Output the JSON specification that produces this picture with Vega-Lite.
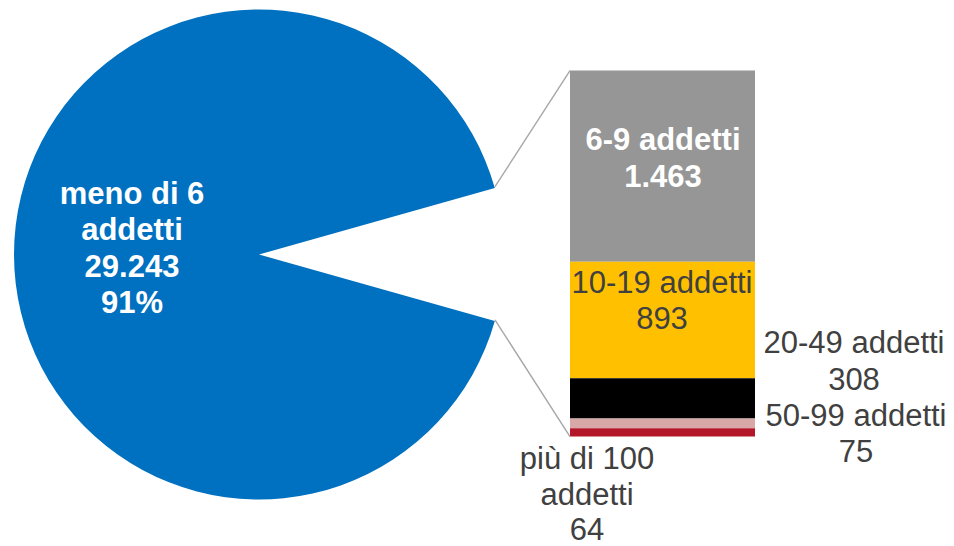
{
  "$schema": "https://vega.github.io/schema/vega-lite/v6.json",
  "width": 954,
  "height": 546,
  "padding": 0,
  "autosize": {"type": "fit", "contains": "padding"},
  "background": "white",
  "config": {"view": {"stroke": null}},
  "data": {
    "values": [
      {"cat": "meno di 6 addetti", "name": "meno di 6\naddetti", "value": 29243, "rank": 0},
      {"cat": "6-9 addetti", "name": "6-9 addetti", "value": 1463, "rank": 1},
      {"cat": "10-19 addetti", "name": "10-19 addetti", "value": 893, "rank": 2},
      {"cat": "20-49 addetti", "name": "20-49 addetti", "value": 308, "rank": 3},
      {"cat": "50-99 addetti", "name": "50-99 addetti", "value": 75, "rank": 4},
      {"cat": "più di 100 addetti", "name": "più di 100\naddetti", "value": 64, "rank": 5}
    ]
  },
  "transform": [
    {"joinaggregate": [{"op": "sum", "field": "value", "as": "total"}]},
    {"window": [{"op": "sum", "field": "value", "as": "v1"}], "sort": [{"field": "rank", "order": "descending"}], "frame": [null, 0]},
    {"calculate": "datum.v1 - datum.value", "as": "v0"},
    {"calculate": "datum.name + '\\n' + replace(format(datum.value, ','), ',', '.') + (datum.rank === 0 ? '\\n' + format(datum.value / datum.total, '.0%') : '')", "as": "lbl"}
  ],
  "layer": [
    {
      "transform": [{"filter": "datum.rank > 0"}],
      "mark": {"type": "bar"},
      "encoding": {
        "x": {"datum": 570, "type": "quantitative", "scale": {"domain": [0, 954], "nice": false, "zero": false}, "axis": null},
        "x2": {"datum": 755},
        "y": {"field": "v0", "type": "quantitative", "scale": {"domain": [-815, 3343.8], "nice": false, "zero": false}, "axis": null},
        "y2": {"field": "v1"},
        "color": {"field": "cat", "type": "nominal", "legend": null,
          "scale": {"domain": ["meno di 6 addetti", "6-9 addetti", "10-19 addetti", "20-49 addetti", "50-99 addetti", "più di 100 addetti"],
                    "range": ["#0070C0", "#969696", "#FFC000", "#000000", "#D8A7A7", "#B5172A"]}}
      }
    },
    {
      "mark": {"type": "arc", "outerRadius": 245, "x": 259, "y": 254.5},
      "encoding": {
        "theta": {"field": "v1", "type": "quantitative", "scale": {"range": [1.296011, 7.579196]}},
        "theta2": {"field": "v0"},
        "color": {"field": "cat", "type": "nominal", "legend": null},
        "opacity": {"condition": {"test": "datum.rank === 0", "value": 1}, "value": 0}
      }
    },
    {
      "transform": [{"filter": "datum.rank === 1"}],
      "mark": {"type": "rule", "color": "#A6A6A6", "strokeWidth": 1.4},
      "encoding": {
        "x": {"datum": 570, "type": "quantitative"},
        "x2": {"datum": 495},
        "y": {"field": "v1", "type": "quantitative", "axis": null},
        "y2": {"datum": 1914.1}
      }
    },
    {
      "transform": [{"filter": "datum.rank === 5"}],
      "mark": {"type": "rule", "color": "#A6A6A6", "strokeWidth": 1.4},
      "encoding": {
        "x": {"datum": 570, "type": "quantitative"},
        "x2": {"datum": 495},
        "y": {"field": "v0", "type": "quantitative", "axis": null},
        "y2": {"datum": 893.5}
      }
    },
    {
      "transform": [{"filter": "datum.rank === 0"}],
      "mark": {"type": "text", "align": "center", "baseline": "alphabetic", "font": "Liberation Sans", "fontSize": 31, "fontWeight": "bold", "fill": "#FFFFFF", "lineHeight": 36.5, "lineBreak": "\n"},
      "encoding": {
        "x": {"datum": 132, "type": "quantitative"},
        "y": {"datum": 1782.3, "type": "quantitative"},
        "text": {"field": "lbl", "type": "nominal"}
      }
    },
    {
      "transform": [{"filter": "datum.rank === 1"}],
      "mark": {"type": "text", "align": "center", "baseline": "alphabetic", "font": "Liberation Sans", "fontSize": 31, "fontWeight": "bold", "fill": "#FFFFFF", "lineHeight": 37.5, "lineBreak": "\n", "dy": 79},
      "encoding": {
        "x": {"datum": 663, "type": "quantitative"},
        "y": {"field": "v1", "type": "quantitative"},
        "text": {"field": "lbl", "type": "nominal"}
      }
    },
    {
      "transform": [{"filter": "datum.rank === 2"}],
      "mark": {"type": "text", "align": "center", "baseline": "alphabetic", "font": "Liberation Sans", "fontSize": 31, "fill": "#404040", "lineHeight": 36.5, "lineBreak": "\n", "dy": 31.3},
      "encoding": {
        "x": {"datum": 662, "type": "quantitative"},
        "y": {"field": "v1", "type": "quantitative"},
        "text": {"field": "lbl", "type": "nominal"}
      }
    },
    {
      "transform": [{"filter": "datum.rank === 3"}],
      "mark": {"type": "text", "align": "center", "baseline": "alphabetic", "font": "Liberation Sans", "fontSize": 31, "fill": "#404040", "lineHeight": 36.5, "lineBreak": "\n", "dy": -25},
      "encoding": {
        "x": {"datum": 854, "type": "quantitative"},
        "y": {"field": "v1", "type": "quantitative"},
        "text": {"field": "lbl", "type": "nominal"}
      }
    },
    {
      "transform": [{"filter": "datum.rank === 4"}],
      "mark": {"type": "text", "align": "center", "baseline": "alphabetic", "font": "Liberation Sans", "fontSize": 31, "fill": "#404040", "lineHeight": 36.5, "lineBreak": "\n", "dy": 7.3},
      "encoding": {
        "x": {"datum": 856, "type": "quantitative"},
        "y": {"field": "v1", "type": "quantitative"},
        "text": {"field": "lbl", "type": "nominal"}
      }
    },
    {
      "transform": [{"filter": "datum.rank === 5"}],
      "mark": {"type": "text", "align": "center", "baseline": "alphabetic", "font": "Liberation Sans", "fontSize": 31, "fill": "#404040", "lineHeight": 35.5, "lineBreak": "\n", "dy": 32.7},
      "encoding": {
        "x": {"datum": 587, "type": "quantitative"},
        "y": {"field": "v0", "type": "quantitative"},
        "text": {"field": "lbl", "type": "nominal"}
      }
    }
  ]
}
